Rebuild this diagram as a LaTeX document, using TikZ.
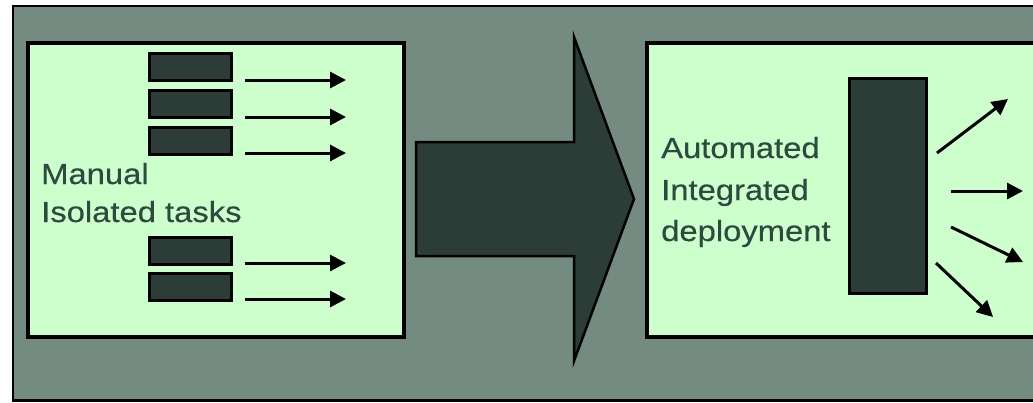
\documentclass[tikz,border=0pt]{standalone}
\usepackage{fontspec}
\setmainfont{Liberation Sans}
\newfontfamily\labfont[FakeStretch=1.13,FakeBold=0.4]{Liberation Sans}
\usetikzlibrary{arrows.meta}
\definecolor{frameg}{HTML}{738B80}
\definecolor{panelg}{HTML}{CCFFCC}
\definecolor{darkg}{HTML}{2B3D36}
\definecolor{textg}{HTML}{2D4A40}
\begin{document}
\begin{tikzpicture}[x=1pt,y=-1pt,
  frame/.style={draw=black,line width=2.5pt,fill=frameg},
  panel/.style={draw=black,line width=3.5pt,fill=panelg},
  task/.style={draw=black,line width=3pt,fill=darkg,inner sep=0pt},
  bigarrow/.style={draw=black,line width=2.5pt,fill=darkg,line join=miter},
  flow/.style={line width=3pt,-{Triangle[length=16pt,width=16pt]}},
  lab/.style={anchor=base west,inner sep=0pt,text=textg,font=\labfont\fontsize{29}{35}\selectfont}]
\clip (0,0) rectangle (1033,402);
\draw[frame] (13,6) rectangle (1045,400.5);
% panels
\draw[panel] (28,43) rectangle (404,337);
\draw[panel] (647,43) rectangle (1045,337);
% left task boxes
\node[task,minimum width=82pt,minimum height=27pt] (t1) at (190,66.5) {};
\node[task,minimum width=82pt,minimum height=27pt] (t2) at (190,103.5) {};
\node[task,minimum width=82pt,minimum height=27pt] (t3) at (190,140.5) {};
\node[task,minimum width=82pt,minimum height=27pt] (t4) at (190,250.5) {};
\node[task,minimum width=82pt,minimum height=27pt] (t5) at (190,286.5) {};
% left arrows
\coordinate (a1s) at (245,80);  \coordinate (a1e) at (346,80);
\coordinate (a2s) at (245,117); \coordinate (a2e) at (346,117);
\coordinate (a3s) at (245,153); \coordinate (a3e) at (346,153);
\coordinate (a4s) at (245,263); \coordinate (a4e) at (346,263);
\coordinate (a5s) at (245,299); \coordinate (a5e) at (346,299);
\draw[flow] (a1s) -- (a1e);
\draw[flow] (a2s) -- (a2e);
\draw[flow] (a3s) -- (a3e);
\draw[flow] (a4s) -- (a4e);
\draw[flow] (a5s) -- (a5e);
% left text
\node[lab] (m1) at (41,184) {Manual};
\node[lab] (m2) at (41,222) {Isolated tasks};
% big arrow
\draw[bigarrow] (416,142) -- (574,142) -- (574,37) -- (634,199) -- (574,361) -- (574,256) -- (416,256) -- cycle;
% right tall box
\node[task,minimum width=77pt,minimum height=215pt] (tall) at (887.5,185.5) {};
% right text
\node[lab] (r1) at (661,158) {Automated};
\node[lab] (r2) at (661,200) {Integrated};
\node[lab] (r3) at (661,241) {deployment};
% right arrows
\coordinate (b1s) at (937,153); \coordinate (b1e) at (1008,99);
\coordinate (b2s) at (951,191); \coordinate (b2e) at (1023,191);
\coordinate (b3s) at (951,227); \coordinate (b3e) at (1023,262);
\coordinate (b4s) at (936,263); \coordinate (b4e) at (993,317);
\draw[flow] (b1s) -- (b1e);
\draw[flow] (b2s) -- (b2e);
\draw[flow] (b3s) -- (b3e);
\draw[flow] (b4s) -- (b4e);
\end{tikzpicture}
\end{document}
